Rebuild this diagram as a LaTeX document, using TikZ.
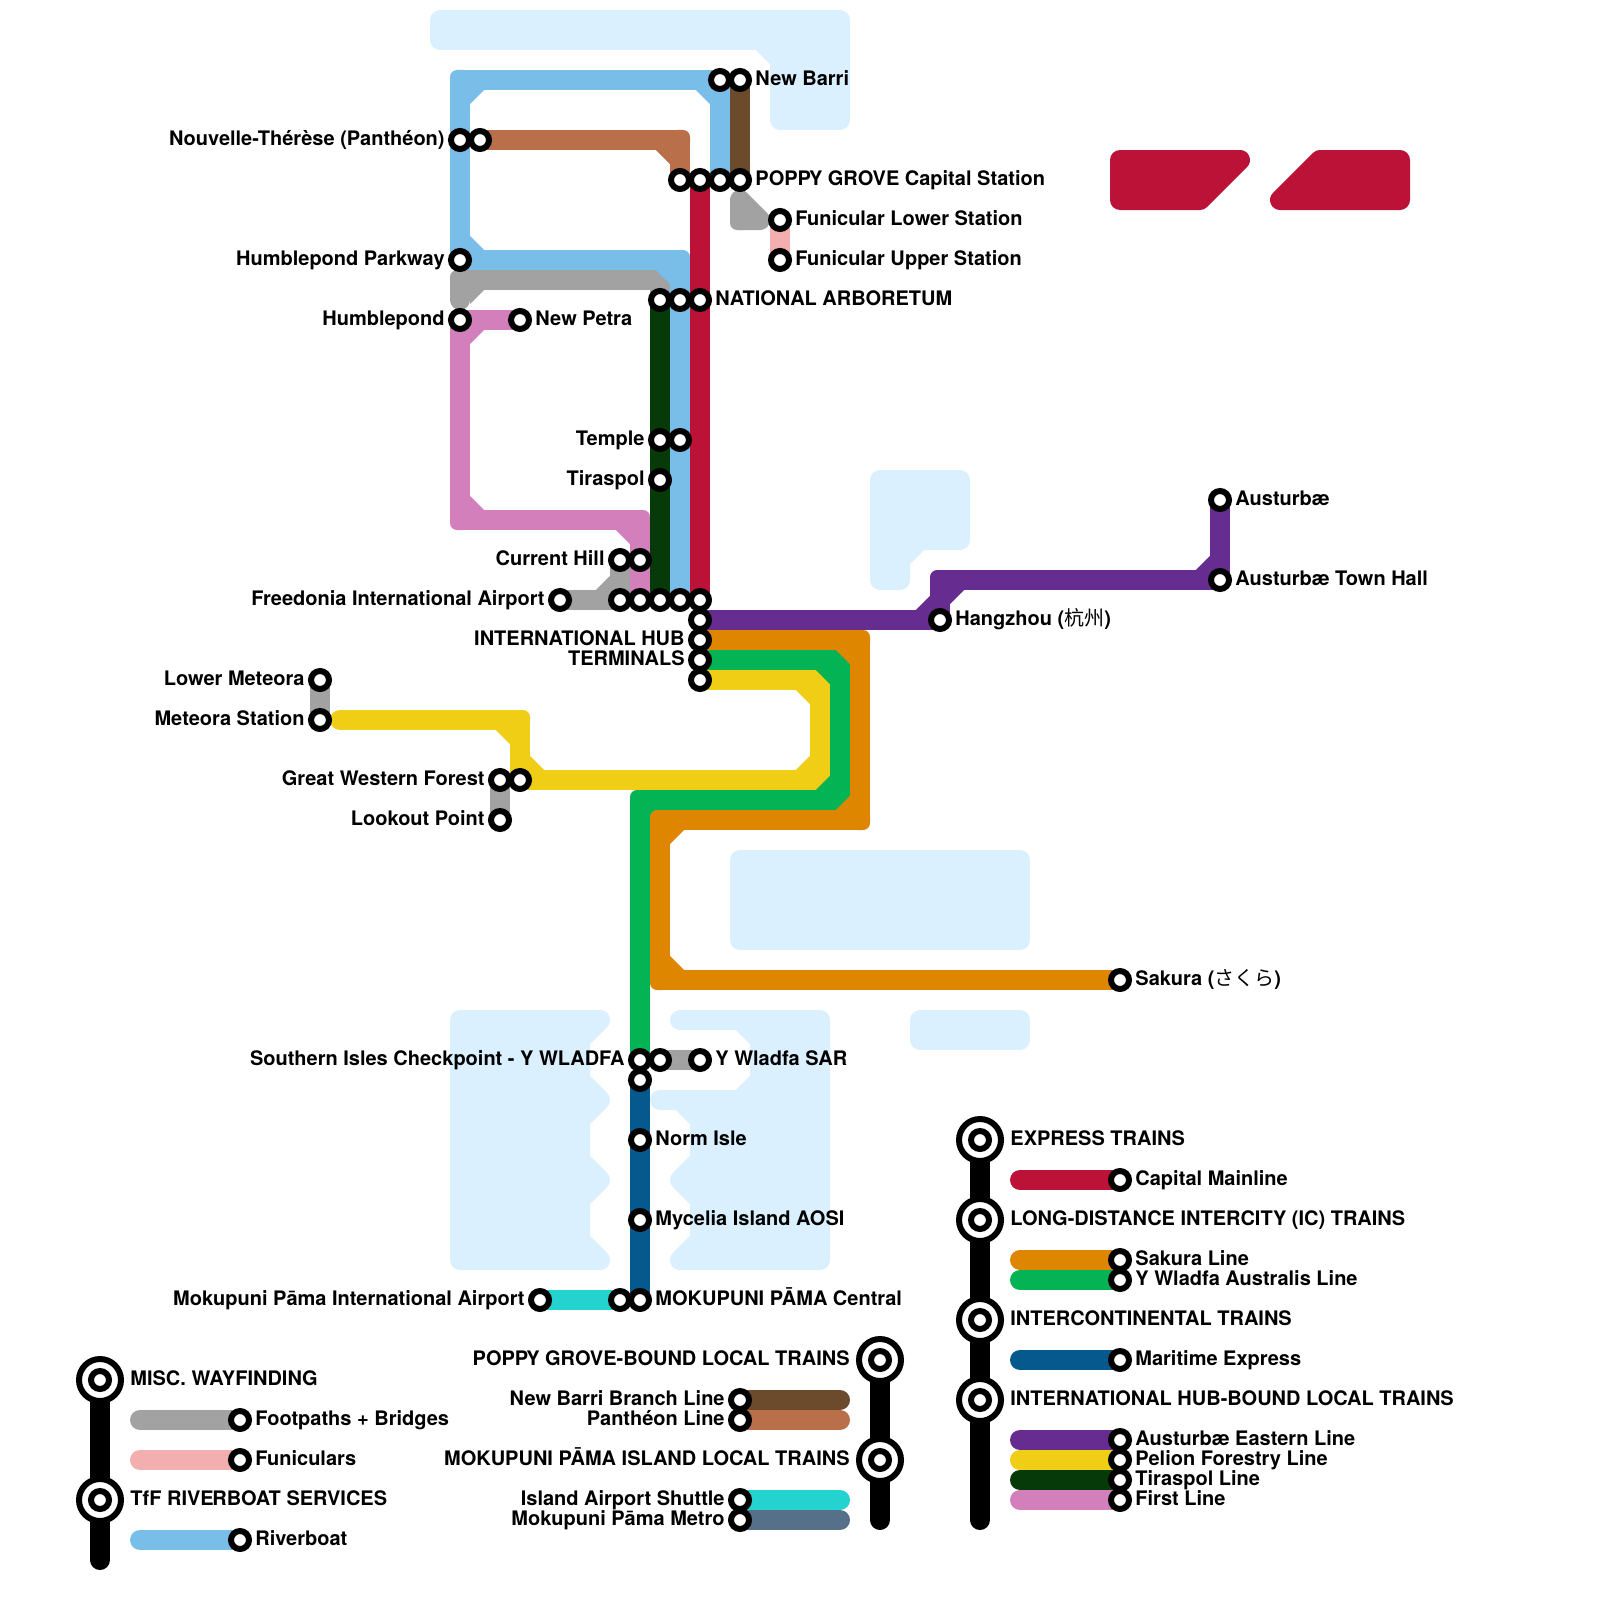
\documentclass[tikz,border=0pt]{standalone}
\usepackage{fontspec}
\setmainfont{TeX Gyre Heros}
\newfontfamily\cjkjp{Noto Sans CJK JP}
\newfontfamily\cjksc{Noto Sans CJK SC}
\definecolor{cGray}{HTML}{A2A2A2}
\definecolor{cFuni}{HTML}{F3AEAF}
\definecolor{cRiver}{HTML}{79BDE9}
\definecolor{cBrown}{HTML}{6B4B2C}
\definecolor{cPanth}{HTML}{B86F4A}
\definecolor{cRed}{HTML}{BC1238}
\definecolor{cPink}{HTML}{D27FBC}
\definecolor{cDark}{HTML}{063A08}
\definecolor{cGreen}{HTML}{04B354}
\definecolor{cOrange}{HTML}{DF8600}
\definecolor{cYellow}{HTML}{F0CE15}
\definecolor{cPurple}{HTML}{662C90}
\definecolor{cMarine}{HTML}{05598C}
\definecolor{cTeal}{HTML}{24D3CF}
\definecolor{cSlate}{HTML}{56708A}
\definecolor{cWater}{HTML}{DAF0FF}
\pgfdeclarelayer{waterlayer}
\pgfdeclarelayer{linelayer}
\pgfsetlayers{waterlayer,linelayer,main}
\tikzset{
  metro/.style={line width=10pt,line cap=round,line join=round},
  stn/.style={circle,draw=black,fill=white,line width=3pt,minimum size=9pt,inner sep=0pt},
  hubring/.style={circle,draw=black,fill=white,line width=3pt,minimum size=21pt,inner sep=0pt},
  lbl/.style={inner sep=0pt,font=\fontsize{10}{12}\selectfont\bfseries},
  blob/.style={line width=10pt,line join=round},
}
\newcommand{\stat}[3]{\node[stn] (#1) at (#2,#3) {};}
\newcommand{\hubst}[3]{\node[hubring] (#1-o) at (#2,#3) {};\node[stn] (#1) at (#2,#3) {};}
\newcommand{\labR}[2]{\node[lbl,anchor=base west] (#1-l) at ([shift={(15,5.5)}]#1.center) {#2};}
\newcommand{\labL}[2]{\node[lbl,anchor=base east] (#1-l) at ([shift={(-15,5.5)}]#1.center) {#2};}
\newcommand{\hubR}[2]{\node[lbl,anchor=base west] (#1-l) at ([shift={(30,5.5)}]#1.center) {#2};}
\newcommand{\hubL}[2]{\node[lbl,anchor=base east] (#1-l) at ([shift={(-30,5.5)}]#1.center) {#2};}
% outer corner of a line with small radius, plus chamfered inner corner (dx,dy points inward)
\newcommand{\bendat}[4]{%
  \fill[#1,rounded corners=3.5pt] ([shift={(-10,-10)}]#2) rectangle ([shift={(10,10)}]#2);
  \fill[#1] ([shift={(#3*10,#4*10)}]#2) -- ([shift={(#3*10,#4*24.14)}]#2) -- ([shift={(#3*24.14,#4*10)}]#2) -- cycle;}
\newcommand{\bendflat}[2]{%
  \fill[#1,rounded corners=3.5pt] ([shift={(-10,-10)}]#2) rectangle ([shift={(10,10)}]#2);}
\begin{document}
\begin{tikzpicture}[x=0.5pt,y=-0.5pt]
\useasboundingbox (0,0) rectangle (1600,1600);
% ---------- stations
\stat{nbA}{720}{80}\stat{nbB}{740}{80}
\stat{ntA}{460}{140}\stat{ntB}{480}{140}
\stat{pgA}{680}{180}\stat{pgB}{700}{180}\stat{pgC}{720}{180}\stat{pgD}{740}{180}
\stat{fl}{780}{220}\stat{fu}{780}{260}
\stat{hp}{460}{260}\stat{hu}{460}{320}\stat{np}{520}{320}
\stat{naA}{660}{300}\stat{naB}{680}{300}\stat{naC}{700}{300}
\stat{teA}{660}{440}\stat{teB}{680}{440}\stat{ti}{660}{480}
\stat{chA}{620}{560}\stat{chB}{640}{560}
\stat{fa}{560}{600}
\stat{fiA}{620}{600}\stat{fiB}{640}{600}\stat{fiC}{660}{600}\stat{fiD}{680}{600}\stat{fiE}{700}{600}
\stat{ihA}{700}{620}\stat{ihB}{700}{640}\stat{ihC}{700}{660}\stat{ihD}{700}{680}
\stat{hz}{940}{620}\stat{au}{1220}{500}\stat{at}{1220}{580}
\stat{lm}{320}{680}\stat{ms}{320}{720}
\stat{gwA}{500}{780}\stat{gwB}{520}{780}\stat{lp}{500}{820}
\stat{sa}{1120}{980}
\stat{siA}{640}{1060}\stat{siB}{660}{1060}\stat{siC}{640}{1080}\stat{yw}{700}{1060}
\stat{no}{640}{1140}\stat{my}{640}{1220}
\stat{mcA}{620}{1300}\stat{mcB}{640}{1300}\stat{ma}{540}{1300}
% ---------- map labels
\labR{nbB}{New Barri}
\labL{ntA}{Nouvelle-Thérèse (Panthéon)}
\labR{pgD}{POPP\kern-1pt Y GROVE Capital Station}
\labR{fl}{Funicular Lower Station}
\labR{fu}{Funicular Upper Station}
\labL{hp}{Humblepond Parkway}
\labL{hu}{Humblepond}
\labR{np}{New Petra}
\labR{naC}{NATIONAL ARBORETUM}
\labL{teA}{Temple}
\labL{ti}{Tiraspol}
\labL{chA}{Current Hill}
\labL{fa}{Freedonia International Airport}
\labL{ihB}{INTERNATIONAL HUB}
\labL{ihC}{TERMINALS}
\labR{hz}{Hangzhou ({\cjksc\mdseries 杭州})}
\labR{au}{Austurbæ}
\labR{at}{Austurbæ Town Hall}
\labL{lm}{Lower Meteora}
\labL{ms}{Meteora Station}
\labL{gwA}{Great Western Forest}
\labL{lp}{Lookout Point}
\labR{sa}{Sakura ({\cjkjp\mdseries さくら})}
\labL{siA}{Southern Isles Checkpoint - Y WLADFA}
\labR{yw}{Y Wladfa SAR}
\labR{no}{Norm Isle}
\labR{my}{Mycelia Island AOSI}
\labR{mcB}{MOKUPUNI PĀMA Central}
\labL{ma}{Mokupuni Pāma International Airport}
% ---------- legend left
\hubst{hMisc}{100}{1380}\hubst{hTfF}{100}{1500}
\hubR{hMisc}{MISC. WAYFINDING}\hubR{hTfF}{TfF RIVE\kern-.7pt RBOAT SERVICES}
\stat{kFoot}{240}{1420}\stat{kFuni}{240}{1460}\stat{kRiver}{240}{1540}
\labR{kFoot}{Footpaths + Bridges}\labR{kFuni}{Funiculars}\labR{kRiver}{Riverboat}
% ---------- legend middle
\hubst{hPoppy}{880}{1360}\hubst{hIsl}{880}{1460}
\hubL{hPoppy}{POPP\kern-1pt Y GROVE-BOUND LOCAL TRAINS}\hubL{hIsl}{MOKUPUNI PĀMA ISLAND LOCAL TRAINS}
\stat{kBrown}{740}{1400}\stat{kPanth}{740}{1420}\stat{kTeal}{740}{1500}\stat{kSlate}{740}{1520}
\labL{kBrown}{New Barri Branch Line}\labL{kPanth}{Panthéon Line}
\labL{kTeal}{Island Airport Shuttle}\labL{kSlate}{Mokupuni Pāma Metro}
% ---------- legend right
\hubst{hExp}{980}{1140}\hubst{hLong}{980}{1220}\hubst{hInt}{980}{1320}\hubst{hLoc}{980}{1400}
\hubR{hExp}{EXPRESS TRAINS}\hubR{hLong}{LONG-DISTANCE INTERCITY (IC) TRAINS}
\hubR{hInt}{INTERCONTINENTAL TRAINS}\hubR{hLoc}{INTERNATIONAL HUB-BOUND LOCAL TRAINS}
\stat{kRed}{1120}{1180}\stat{kOrange}{1120}{1260}\stat{kGreen}{1120}{1280}\stat{kMarine}{1120}{1360}
\stat{kPurple}{1120}{1440}\stat{kYellow}{1120}{1460}\stat{kDark}{1120}{1480}\stat{kPink}{1120}{1500}
\labR{kRed}{Capital Mainline}\labR{kOrange}{Sakura Line}\labR{kGreen}{Y Wladfa Australis Line}
\labR{kMarine}{Maritime Express}\labR{kPurple}{Austurbæ Eastern Line}\labR{kYellow}{Pelion Forestry Line}
\labR{kDark}{Tiraspol Line}\labR{kPink}{First Line}
% ---------- water
\begin{pgfonlayer}{waterlayer}
\filldraw[blob,cWater] (440,20) -- (840,20) -- (840,120) -- (780,120) -- (780,60) -- (760,40) -- (440,40) -- cycle;
\filldraw[blob,cWater] (880,480) -- (960,480) -- (960,540) -- (920,540) -- (900,560) -- (900,580) -- (880,580) -- cycle;
\filldraw[blob,cWater] (740,860) -- (1020,860) -- (1020,940) -- (740,940) -- cycle;
\filldraw[blob,cWater] (920,1020) -- (1020,1020) -- (1020,1040) -- (920,1040) -- cycle;
\filldraw[blob,cWater] (460,1020) -- (600,1020) -- (580,1040) -- (580,1080) -- (600,1100) -- (580,1120) -- (580,1160) -- (600,1180) -- (580,1200) -- (580,1240) -- (600,1260) -- (460,1260) -- cycle;
\filldraw[blob,cWater] (680,1020) -- (820,1020) -- (820,1260) -- (680,1260) -- (700,1240) -- (700,1200) -- (680,1180) -- (700,1160) -- (700,1120) -- (680,1100) -- (660,1100) -- (740,1100) -- (760,1080) -- (760,1040) -- (740,1020) -- cycle;
\filldraw[blob,cRed] (1120,160) -- (1240,160) -- (1200,200) -- (1120,200) -- cycle;
\filldraw[blob,cRed] (1280,200) -- (1320,160) -- (1400,160) -- (1400,200) -- cycle;
\end{pgfonlayer}
% ---------- lines
\begin{pgfonlayer}{linelayer}
% footpaths
\coordinate (g1) at (740,220); \coordinate (g1a) at (740,200); \coordinate (g1b) at (760,220);
\draw[metro,cGray] (g1a) -- (g1) -- (g1b) -- cycle;
\bendflat{cGray}{g1}
\coordinate (g2) at (460,280); \coordinate (g3) at (660,280); \coordinate (g4) at (460,300);
\draw[metro,cGray] (g4) -- (g2) -- (g3) -- (naA.center);
\bendat{cGray}{g2}{1}{1}
\bendflat{cGray}{g3}
\coordinate (g5) at (620,600);
\draw[metro,cGray] (fa.center) -- (g5) -- (chA.center);
\bendat{cGray}{g5}{-1}{-1}
\draw[metro,cGray] (lm.center) -- (ms.center);
\draw[metro,cGray] (gwA.center) -- (lp.center);
\draw[metro,cGray] (siB.center) -- (yw.center);
% funicular
\draw[metro,cFuni] (fl.center) -- (fu.center);
% first line
\coordinate (p1) at (460,320); \coordinate (p2) at (460,520); \coordinate (p3) at (640,520);
\draw[metro,cPink] (np.center) -- (p1) -- (p2) -- (p3) -- (fiB.center);
\bendat{cPink}{p1}{1}{1}\bendat{cPink}{p2}{1}{-1}\bendat{cPink}{p3}{-1}{1}
% branch lines
\draw[metro,cBrown] (nbB.center) -- (pgD.center);
\coordinate (b1) at (680,140);
\draw[metro,cPanth] (ntB.center) -- (b1) -- (pgA.center);
\bendat{cPanth}{b1}{-1}{1}
% pelion forestry
\coordinate (y0) at (340,720); \coordinate (y1) at (520,720); \coordinate (y2) at (520,780);
\coordinate (y3) at (820,780); \coordinate (y4) at (820,680);
\draw[metro,cYellow] (y0) -- (y1) -- (y2) -- (y3) -- (y4) -- (ihD.center);
\bendat{cYellow}{y1}{-1}{1}\bendat{cYellow}{y2}{1}{-1}\bendat{cYellow}{y3}{-1}{-1}\bendat{cYellow}{y4}{-1}{1}
% y wladfa australis
\coordinate (v1) at (840,660); \coordinate (v2) at (840,800); \coordinate (v3) at (640,800);
\draw[metro,cGreen] (ihC.center) -- (v1) -- (v2) -- (v3) -- (siA.center);
\bendat{cGreen}{v1}{-1}{1}\bendat{cGreen}{v2}{-1}{-1}\bendat{cGreen}{v3}{1}{1}
% sakura
\coordinate (o1) at (860,640); \coordinate (o2) at (860,820); \coordinate (o3) at (660,820); \coordinate (o4) at (660,980);
\draw[metro,cOrange] (ihB.center) -- (o1) -- (o2) -- (o3) -- (o4) -- (sa.center);
\bendat{cOrange}{o1}{-1}{1}\bendat{cOrange}{o2}{-1}{-1}\bendat{cOrange}{o3}{1}{1}\bendat{cOrange}{o4}{1}{-1}
% tiraspol
\draw[metro,cDark] (naA.center) -- (fiC.center);
% riverboat
\coordinate (r1) at (460,80); \coordinate (r2) at (720,80); \coordinate (r3) at (460,260); \coordinate (r4) at (680,260);
\draw[metro,cRiver] (pgC.center) -- (r2) -- (r1) -- (r3) -- (r4) -- (fiD.center);
\bendat{cRiver}{r1}{1}{1}\bendat{cRiver}{r2}{-1}{1}\bendat{cRiver}{r3}{1}{-1}\bendat{cRiver}{r4}{-1}{1}
% capital mainline
\draw[metro,cRed] (pgB.center) -- (fiE.center);
% austurbae eastern
\coordinate (u1) at (940,580); \coordinate (u2) at (1220,580);
\draw[metro,cPurple] (ihA.center) -- (hz.center) -- (u1) -- (u2) -- (au.center);
\bendat{cPurple}{hz.center}{-1}{-1}\bendat{cPurple}{u1}{1}{1}\bendat{cPurple}{u2}{-1}{-1}
% maritime + shuttle
\draw[metro,cMarine] (siC.center) -- (mcB.center);
\draw[metro,cTeal] (ma.center) -- (mcA.center);
% legend spines
\coordinate (e1) at (100,1560); \coordinate (e2) at (880,1520); \coordinate (e3) at (980,1520);
\draw[metro,black] (hMisc.center) -- (e1);
\draw[metro,black] (hPoppy.center) -- (e2);
\draw[metro,black] (hExp.center) -- (e3);
% legend bars
\coordinate (k1) at (140,1420); \coordinate (k2) at (140,1460); \coordinate (k3) at (140,1540);
\draw[metro,cGray] (k1) -- (kFoot.center);
\draw[metro,cFuni] (k2) -- (kFuni.center);
\draw[metro,cRiver] (k3) -- (kRiver.center);
\coordinate (k4) at (840,1400); \coordinate (k5) at (840,1420); \coordinate (k6) at (840,1500); \coordinate (k7) at (840,1520);
\draw[metro,cBrown] (k4) -- (kBrown.center);
\draw[metro,cPanth] (k5) -- (kPanth.center);
\draw[metro,cTeal] (k6) -- (kTeal.center);
\draw[metro,cSlate] (k7) -- (kSlate.center);
\coordinate (m1) at (1020,1180); \coordinate (m2) at (1020,1260); \coordinate (m3) at (1020,1280); \coordinate (m4) at (1020,1360);
\coordinate (m5) at (1020,1440); \coordinate (m6) at (1020,1460); \coordinate (m7) at (1020,1480); \coordinate (m8) at (1020,1500);
\draw[metro,cRed] (m1) -- (kRed.center);
\draw[metro,cOrange] (m2) -- (kOrange.center);
\draw[metro,cGreen] (m3) -- (kGreen.center);
\draw[metro,cMarine] (m4) -- (kMarine.center);
\draw[metro,cPurple] (m5) -- (kPurple.center);
\draw[metro,cYellow] (m6) -- (kYellow.center);
\draw[metro,cDark] (m7) -- (kDark.center);
\draw[metro,cPink] (m8) -- (kPink.center);
\end{pgfonlayer}
\end{tikzpicture}
\end{document}
